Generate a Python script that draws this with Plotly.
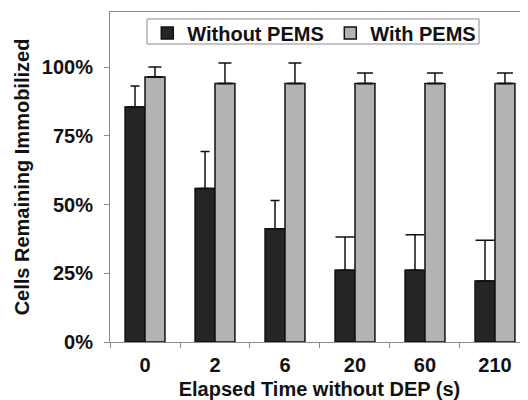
import plotly.graph_objects as go

categories = ["0", "2", "6", "20", "60", "210"]
without_pems = [0.855, 0.558, 0.412, 0.261, 0.261, 0.222]
without_err = [0.076, 0.135, 0.103, 0.121, 0.129, 0.148]
with_pems = [0.964, 0.940, 0.940, 0.940, 0.940, 0.940]
with_err = [0.036, 0.075, 0.075, 0.038, 0.038, 0.038]
y_ticks = [0, 0.25, 0.5, 0.75, 1.0]

font_family = "Liberation Sans, Arial, sans-serif"
INK = "#111111"

# the first three error bars have narrower caps than the last three
def split(vals, first):
    return [v if ((i < 3) == first) else None for i, v in enumerate(vals)]

fig = go.Figure()
series = [
    ("Without PEMS", without_pems, without_err, "#252525", "a", 4.5, 9.5),
    ("With PEMS", with_pems, with_err, "#b3b3b3", "b", 6.5, 8),
]
for name, vals, errs, color, grp, w1, w2 in series:
    fig.add_trace(go.Bar(
        name=name, x=categories, y=vals, offsetgroup=grp,
        marker=dict(color=color, line=dict(color=INK, width=1.5)),
        error_y=dict(type="data", symmetric=False, array=split(errs, True),
                     arrayminus=[0] * len(errs),
                     color=INK, thickness=1.5, width=w1),
    ))
for name, vals, errs, color, grp, w1, w2 in series:
    fig.add_trace(go.Bar(
        name=name, x=categories, y=vals, offsetgroup=grp, showlegend=False,
        hoverinfo="skip",
        marker=dict(color="rgba(0,0,0,0)", line=dict(width=0)),
        error_y=dict(type="data", symmetric=False, array=split(errs, False),
                     arrayminus=[0] * len(errs),
                     color=INK, thickness=1.5, width=w2),
    ))

# legend frame
fig.add_shape(type="rect", xref="paper", yref="paper",
              x0=0.0883, x1=0.8807, y0=0.903, y1=0.9788,
              line=dict(color="#8a8a8a", width=1), fillcolor="white", layer="below")

fig.update_layout(
    width=528, height=400,
    margin=dict(l=102, r=7, t=4, b=66),
    paper_bgcolor="white", plot_bgcolor="white",
    barmode="group", bargap=0.43, bargroupgap=0,
    font=dict(family=font_family, color=INK),
    legend=dict(
        orientation="h", x=0.089, y=0.936, xanchor="left", yanchor="middle",
        bgcolor="rgba(0,0,0,0)", borderwidth=0,
        entrywidth=138, entrywidthmode="pixels",
        font=dict(size=20, family=font_family, weight="bold"),
        traceorder="normal",
    ),
    xaxis=dict(
        range=[-0.5, 5.486],
        showline=True, linecolor="#8a8a8a", linewidth=1, mirror=True,
        ticks="outside", tickson="boundaries", ticklen=5, tickcolor="#8a8a8a",
        tickfont=dict(size=20, weight="bold"),
        ticklabelstandoff=5,
        title=dict(text="Elapsed Time without DEP (s)",
                   font=dict(size=20, weight="bold"), standoff=6),
        showgrid=False, zeroline=False,
    ),
    yaxis=dict(
        range=[0, 1.2],
        tickvals=y_ticks, tickformat=".0%",
        showline=True, linecolor="#8a8a8a", linewidth=1,
        ticks="outside", ticklen=5, tickcolor="#8a8a8a",
        tickfont=dict(size=20, weight="bold"),
        ticklabelstandoff=7,
        title=dict(text="Cells Remaining Immobilized",
                   font=dict(size=20, weight="bold"), standoff=6),
        showgrid=False, zeroline=False,
    ),
)

fig.write_html("out.html")
